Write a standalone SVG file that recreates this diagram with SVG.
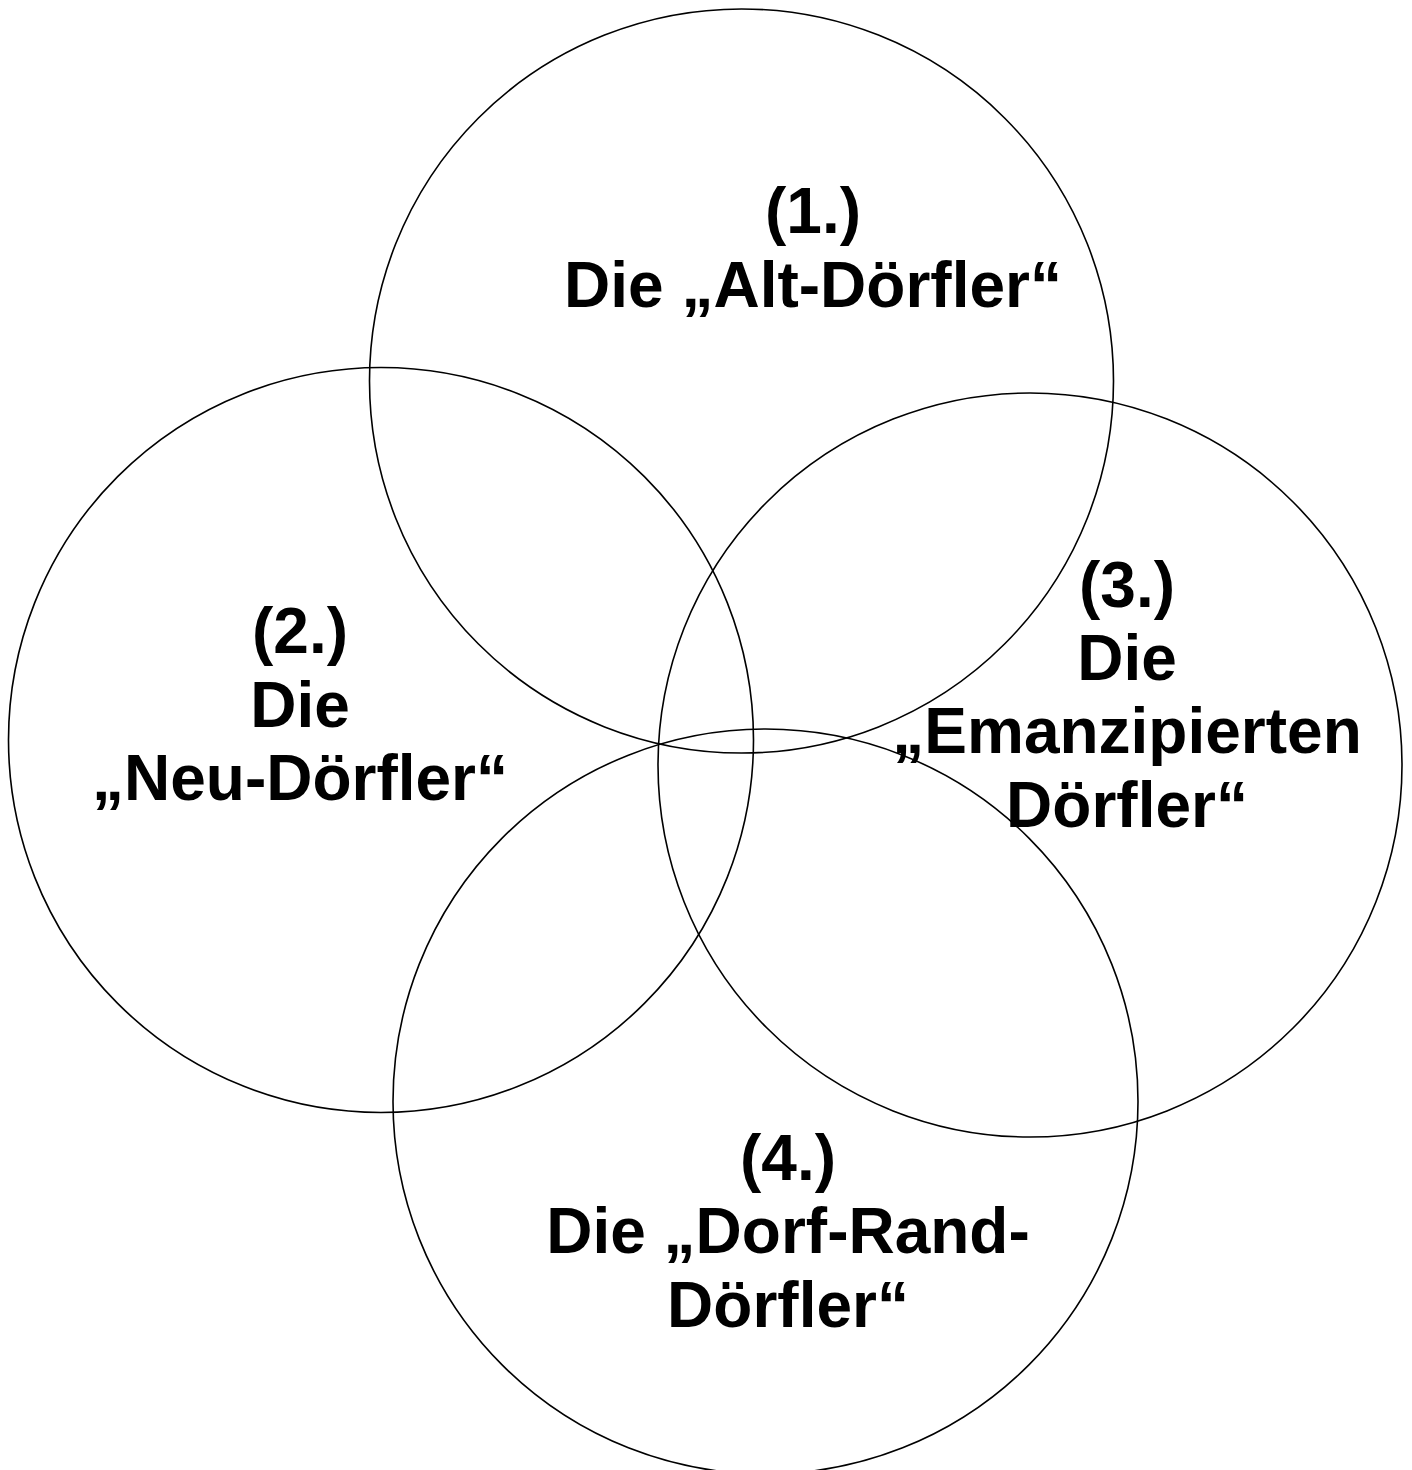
<svg xmlns="http://www.w3.org/2000/svg" width="1412" height="1470" viewBox="0 0 1412 1470">
<style>
.c{fill:none;stroke:#000;stroke-width:1.6}
.t{font-family:"Liberation Sans",Arial,sans-serif;font-weight:bold;font-size:64px;fill:#000;text-anchor:middle}
</style>
<rect width="1412" height="1470" fill="#fff"/>
<g id="circles">
<circle id="c1" class="c" cx="741.5" cy="381" r="372"/>
<circle id="c2" class="c" cx="381" cy="740" r="372.5"/>
<circle id="c3" class="c" cx="1030" cy="765" r="372"/>
<circle id="c4" class="c" cx="765.5" cy="1101.5" r="372.5"/>
</g>
<g id="node1">
<text class="t" x="813" y="233">(1.)</text>
<text class="t" x="813" y="307">Die „Alt-Dörfler“</text>
</g>
<g id="node2">
<text class="t" x="300" y="653">(2.)</text>
<text class="t" x="300" y="727">Die</text>
<text class="t" x="300" y="800">„Neu-Dörfler“</text>
</g>
<g id="node3">
<text class="t" x="1127" y="607">(3.)</text>
<text class="t" x="1127" y="680">Die</text>
<text class="t" x="1127" y="753">„Emanzipierten</text>
<text class="t" x="1127" y="827">Dörfler“</text>
</g>
<g id="node4">
<text class="t" x="788" y="1180">(4.)</text>
<text class="t" x="788" y="1253">Die „Dorf-Rand-</text>
<text class="t" x="788" y="1327">Dörfler“</text>
</g>
</svg>
